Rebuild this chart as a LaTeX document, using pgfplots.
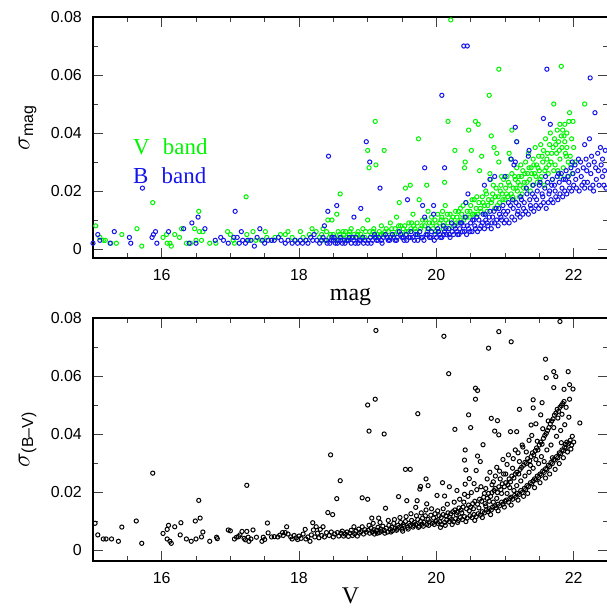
\documentclass[border=0pt]{standalone}
\usepackage{pgfplots}
\pgfplotsset{compat=1.18}
\usepackage{fontspec}
\setmainfont{Liberation Sans}
\newfontfamily\labfont{Liberation Serif}
\definecolor{vgreen}{RGB}{0,245,0}
\definecolor{bblue}{RGB}{20,20,235}
\pgfplotsset{
  panel/.style={
    scale only axis, width=515bp, xmin=15, xmax=22.5,
    xtick={16,18,20,22}, minor xtick={15.5,16.5,17,17.5,18.5,19,19.5,20.5,21,21.5,22.5},
    ytick={0,0.02,0.04,0.06,0.08}, yticklabels={0,0.02,0.04,0.06,0.08},
    minor ytick={0.01,0.03,0.05,0.07},
    scaled y ticks=false,
    tick align=inside, major tick length=10bp, minor tick length=5bp,
    every tick/.style={line width=0.8bp, black!75},
    axis line style={line width=1.2bp},
    /pgf/number format/assume math mode=true,
    tick label style={font=\fontsize{16}{16}\selectfont},
    yticklabel style={inner sep=0pt, xshift=-11bp},
    xticklabel style={inner sep=0pt, yshift=-11bp},
    xlabel style={font=\labfont\fontsize{24}{24}\selectfont, at={(axis description cs:0.5,-0.16)}, anchor=center},
    ylabel style={at={(axis description cs:-0.127,0.5)}, anchor=center},
  },
  pts/.style={only marks, mark=o, mark size=2.1bp, mark options={draw=#1, line width=1bp}},
}
\begin{document}
\begin{tikzpicture}
\begin{axis}[panel, at={(0,0)}, anchor=north west, height=241bp, ymin=-0.0031, ymax=0.08,
  xlabel={mag}, ylabel={\fontsize{25}{25}\selectfont$\sigma_{\mbox{\fontsize{16}{16}\selectfont mag}}$},
  ylabel style={at={(axis description cs:-0.127,0.54)}}]
\addplot[pts=vgreen] coordinates {
(15.04,0.008)(15.1,0.004)(15.15,0.003)(15.18,0.003)(15.26,0.002)(15.34,0.002)(15.42,0.005)(15.64,0.007)(15.71,0.001)(15.87,0.016)(16.02,0.004)(16.07,0.005)(16.08,0.002)(16.12,0.002)(16.14,0.001)(16.19,0.005)(16.26,0.004)(16.29,0.007)(16.36,0.002)(16.42,0.002)(16.48,0.007)(16.5,0.003)(16.54,0.013)(16.55,0.006)(16.58,0.003)(16.6,0.006)(16.7,0.002)(16.79,0.002)(16.96,0.006)(17.0,0.005)(17.04,0.003)(17.06,0.002)(17.23,0.018)(17.24,0.005)(17.27,0.003)(17.33,0.006)(17.37,0.003)(17.45,0.003)(17.51,0.006)(17.53,0.004)(17.6,0.003)(17.65,0.004)(17.73,0.005)(17.8,0.005)(17.84,0.006)(17.9,0.004)(17.95,0.003)(18.02,0.006)(18.06,0.004)(18.1,0.003)(18.15,0.005)(18.19,0.007)(18.25,0.006)
(18.3,0.004)(18.33,0.005)(18.35,0.007)(18.38,0.003)(18.42,0.010)(18.44,0.004)(18.48,0.010)(18.5,0.005)(18.52,0.004)(18.55,0.012)(18.57,0.006)(18.6,0.019)(18.62,0.004)(18.65,0.005)(18.68,0.006)(18.7,0.004)(18.73,0.005)(18.76,0.007)(18.8,0.005)(18.83,0.004)(18.86,0.006)(18.9,0.005)(18.93,0.007)(18.96,0.004)(19.0,0.010)(19.0,0.034)(19.02,0.028)(19.03,0.006)(19.06,0.005)(19.09,0.007)(19.11,0.044)(19.12,0.029)(19.14,0.005)(19.17,0.006)(19.2,0.008)(19.24,0.034)(19.23,0.005)(19.27,0.007)(19.3,0.006)(19.33,0.009)(19.36,0.005)(19.4,0.007)(19.42,0.011)(19.44,0.006)(19.46,0.016)(19.48,0.008)(19.52,0.007)(19.55,0.021)(19.56,0.006)(19.6,0.009)(19.62,0.022)(19.63,0.007)(19.66,0.012)(19.67,0.008)(19.7,0.006)(19.72,0.009)(19.74,0.038)(19.75,0.017)(19.77,0.007)(19.8,0.010)(19.83,0.008)(19.86,0.022)(19.87,0.006)(19.88,0.013)(19.9,0.009)(19.93,0.011)(19.95,0.007)(19.98,0.010)
(18.32,0.003)(18.4,0.006)(18.46,0.005)(18.54,0.003)(18.59,0.005)(18.64,0.006)(18.69,0.003)(18.74,0.006)(18.79,0.004)(18.85,0.005)(18.91,0.004)(18.97,0.006)(19.04,0.004)(19.08,0.006)(19.13,0.004)(19.19,0.005)(19.25,0.006)(19.29,0.004)(19.35,0.007)(19.39,0.005)(19.45,0.008)(19.5,0.005)(19.54,0.008)(19.59,0.006)(19.64,0.009)(19.69,0.007)(19.73,0.005)(19.79,0.008)(19.84,0.010)(19.89,0.007)(19.94,0.009)(19.99,0.006)
(20.0,0.008)(20.02,0.012)(20.05,0.009)(20.08,0.011)(20.09,0.013)(20.1,0.007)(20.12,0.023)(20.13,0.015)(20.14,0.010)(20.17,0.044)(20.17,0.009)(20.2,0.012)(20.21,0.079)(20.22,0.010)(20.25,0.008)(20.27,0.034)(20.28,0.013)(20.3,0.011)(20.33,0.009)(20.35,0.014)(20.37,0.012)(20.4,0.010)(20.41,0.028)(20.42,0.030)(20.43,0.016)(20.45,0.013)(20.47,0.041)(20.48,0.011)(20.5,0.015)(20.51,0.034)(20.53,0.012)(20.55,0.017)(20.57,0.044)(20.58,0.014)(20.6,0.012)(20.61,0.043)(20.62,0.016)(20.63,0.027)(20.65,0.013)(20.66,0.032)(20.67,0.018)(20.7,0.015)(20.72,0.020)(20.74,0.013)(20.77,0.053)(20.76,0.017)(20.78,0.026)(20.79,0.024)(20.8,0.039)(20.8,0.016)(20.82,0.019)(20.84,0.035)(20.85,0.014)(20.87,0.021)(20.88,0.033)(20.9,0.018)(20.91,0.062)(20.91,0.030)(20.92,0.016)(20.94,0.022)(20.96,0.019)(20.98,0.024)
(21.0,0.017)(21.01,0.021)(21.03,0.025)(21.04,0.018)(21.06,0.033)(21.07,0.022)(21.08,0.031)(21.09,0.019)(21.1,0.041)(21.1,0.026)(21.12,0.021)(21.13,0.017)(21.15,0.024)(21.17,0.037)(21.17,0.028)(21.18,0.020)(21.2,0.025)(21.22,0.022)(21.23,0.029)(21.25,0.019)(21.26,0.027)(21.28,0.023)(21.3,0.030)(21.31,0.021)(21.33,0.026)(21.34,0.033)(21.36,0.024)(21.38,0.028)(21.4,0.022)(21.41,0.031)(21.43,0.026)(21.44,0.035)(21.46,0.029)(21.47,0.023)(21.49,0.032)(21.5,0.027)(21.52,0.036)(21.53,0.025)(21.55,0.030)(21.56,0.034)(21.57,0.022)(21.59,0.038)(21.6,0.028)(21.62,0.033)(21.63,0.026)(21.65,0.036)(21.66,0.040)(21.67,0.030)(21.69,0.024)(21.7,0.035)(21.71,0.050)(21.72,0.038)(21.73,0.029)(21.75,0.033)(21.76,0.041)(21.77,0.027)(21.78,0.037)(21.8,0.043)(21.8,0.031)(21.82,0.063)(21.82,0.039)(21.83,0.035)(21.84,0.041)(21.85,0.028)(21.87,0.043)(21.87,0.037)(21.88,0.033)(21.89,0.032)(21.9,0.040)(21.91,0.025)(21.93,0.044)(21.94,0.047)(21.95,0.032)(21.96,0.029)(21.98,0.026)(21.99,0.044)(22.0,0.035)(22.02,0.030)(22.16,0.050)
(20.03,0.006)(20.07,0.010)(20.11,0.008)(20.16,0.012)(20.19,0.007)(20.24,0.011)(20.29,0.009)(20.32,0.013)(20.36,0.010)(20.39,0.015)(20.44,0.011)(20.49,0.013)(20.52,0.017)(20.56,0.012)(20.59,0.018)(20.64,0.014)(20.68,0.016)(20.71,0.012)(20.73,0.019)(20.75,0.015)(20.81,0.017)(20.83,0.022)(20.86,0.018)(20.89,0.015)(20.93,0.020)(20.95,0.025)(20.97,0.017)(21.02,0.019)(21.05,0.023)(21.11,0.018)(21.14,0.025)(21.16,0.021)(21.19,0.023)(21.21,0.018)(21.24,0.025)(21.27,0.021)(21.29,0.026)(21.32,0.023)(21.35,0.028)(21.37,0.020)(21.39,0.026)(21.42,0.029)(21.45,0.025)(21.48,0.028)(21.51,0.024)(21.54,0.032)(21.58,0.027)(21.61,0.031)(21.64,0.029)(21.68,0.033)(21.71,0.027)(21.74,0.036)(21.79,0.034)(21.81,0.025)(21.86,0.039)(21.9,0.035)(21.92,0.030)(21.97,0.038)
};
\addplot[pts=bblue] coordinates {
(15.0,0.002)(15.07,0.005)(15.1,0.003)(15.25,0.002)(15.31,0.006)(15.53,0.004)(15.55,0.002)(15.72,0.021)(15.86,0.004)(15.88,0.005)(15.91,0.006)(15.93,0.002)(16.1,0.006)(16.32,0.007)(16.4,0.002)(16.44,0.009)(16.5,0.002)(16.53,0.011)(16.63,0.007)(16.78,0.003)(16.86,0.004)(16.9,0.003)(16.97,0.002)(17.05,0.004)(17.07,0.013)(17.1,0.004)(17.13,0.002)(17.16,0.006)(17.18,0.003)(17.22,0.002)(17.25,0.003)(17.3,0.003)(17.35,0.001)(17.39,0.004)(17.43,0.007)(17.47,0.003)(17.5,0.002)(17.55,0.003)(17.6,0.003)(17.64,0.003)(17.7,0.004)(17.74,0.003)(17.8,0.002)(17.84,0.003)(17.9,0.002)(17.94,0.003)(17.98,0.002)(18.02,0.003)(18.05,0.002)(18.1,0.003)(18.13,0.002)(18.17,0.004)(18.2,0.003)(18.22,0.005)(18.26,0.003)
(18.3,0.002)(18.33,0.003)(18.37,0.008)(18.4,0.003)(18.42,0.013)(18.43,0.032)(18.45,0.002)(18.48,0.004)(18.5,0.003)(18.53,0.002)(18.55,0.015)(18.57,0.003)(18.6,0.004)(18.63,0.002)(18.66,0.003)(18.7,0.003)(18.73,0.004)(18.76,0.002)(18.8,0.011)(18.8,0.003)(18.83,0.004)(18.86,0.002)(18.9,0.014)(18.9,0.003)(18.93,0.004)(18.96,0.003)(18.98,0.037)(19.0,0.002)(19.03,0.030)(19.04,0.004)(19.07,0.003)(19.1,0.005)(19.13,0.003)(19.16,0.004)(19.18,0.021)(19.2,0.003)(19.23,0.004)(19.26,0.005)(19.3,0.003)(19.33,0.004)(19.36,0.005)(19.4,0.003)(19.43,0.004)(19.46,0.006)(19.5,0.004)(19.53,0.003)(19.56,0.005)(19.58,0.017)(19.6,0.004)(19.63,0.006)(19.66,0.004)(19.7,0.005)(19.73,0.003)(19.76,0.006)(19.8,0.015)(19.8,0.004)(19.83,0.028)(19.83,0.011)(19.85,0.005)(19.88,0.007)(19.9,0.004)(19.93,0.006)(19.96,0.015)(19.96,0.012)(19.98,0.005)
(18.35,0.004)(18.41,0.002)(18.47,0.003)(18.51,0.004)(18.56,0.002)(18.61,0.003)(18.67,0.002)(18.72,0.003)(18.78,0.004)(18.82,0.002)(18.88,0.003)(18.94,0.002)(19.01,0.003)(19.05,0.002)(19.11,0.004)(19.15,0.003)(19.21,0.002)(19.28,0.004)(19.32,0.003)(19.38,0.004)(19.42,0.003)(19.48,0.005)(19.52,0.004)(19.57,0.003)(19.62,0.004)(19.68,0.003)(19.72,0.005)(19.78,0.004)(19.82,0.003)(19.87,0.005)(19.92,0.004)(19.97,0.003)
(20.0,0.004)(20.02,0.007)(20.05,0.005)(20.08,0.053)(20.08,0.004)(20.1,0.008)(20.12,0.028)(20.12,0.006)(20.15,0.005)(20.18,0.007)(20.2,0.004)(20.22,0.009)(20.25,0.005)(20.28,0.007)(20.3,0.006)(20.33,0.005)(20.35,0.009)(20.38,0.006)(20.4,0.070)(20.4,0.008)(20.42,0.011)(20.43,0.016)(20.44,0.005)(20.45,0.070)(20.46,0.019)(20.47,0.007)(20.5,0.009)(20.52,0.006)(20.55,0.010)(20.57,0.007)(20.6,0.006)(20.62,0.010)(20.65,0.008)(20.68,0.012)(20.7,0.022)(20.7,0.007)(20.72,0.010)(20.75,0.008)(20.78,0.024)(20.78,0.013)(20.8,0.007)(20.82,0.011)(20.85,0.025)(20.85,0.009)(20.87,0.014)(20.9,0.008)(20.92,0.012)(20.95,0.010)(20.97,0.015)(20.99,0.009)
(21.0,0.025)(21.02,0.010)(21.04,0.013)(21.06,0.009)(21.08,0.015)(21.09,0.031)(21.1,0.011)(21.12,0.014)(21.13,0.029)(21.14,0.010)(21.15,0.042)(21.15,0.030)(21.16,0.016)(21.17,0.037)(21.18,0.012)(21.2,0.015)(21.22,0.011)(21.24,0.017)(21.26,0.012)(21.28,0.016)(21.3,0.013)(21.32,0.019)(21.34,0.032)(21.35,0.034)(21.34,0.012)(21.36,0.017)(21.38,0.014)(21.4,0.019)(21.42,0.013)(21.43,0.018)(21.45,0.015)(21.47,0.020)(21.49,0.014)(21.5,0.022)(21.52,0.015)(21.54,0.019)(21.56,0.045)(21.56,0.016)(21.58,0.021)(21.6,0.014)(21.61,0.062)(21.62,0.023)(21.63,0.016)(21.65,0.020)(21.66,0.043)(21.67,0.017)(21.69,0.024)(21.7,0.016)(21.72,0.022)(21.74,0.018)(21.76,0.025)(21.77,0.017)(21.79,0.023)(21.8,0.019)(21.82,0.026)(21.84,0.018)(21.85,0.024)(21.87,0.020)(21.89,0.027)(21.9,0.019)(21.92,0.025)(21.94,0.021)(21.96,0.028)(21.97,0.020)(21.99,0.026)(22.0,0.022)(22.02,0.029)(22.04,0.021)(22.06,0.027)(22.08,0.020)(22.1,0.030)(22.12,0.022)(22.14,0.028)(22.16,0.036)(22.16,0.021)(22.18,0.031)(22.2,0.023)(22.22,0.029)(22.23,0.038)(22.24,0.059)(22.24,0.021)(22.26,0.032)(22.28,0.022)(22.29,0.020)(22.3,0.030)(22.31,0.047)(22.33,0.024)(22.35,0.033)(22.37,0.022)(22.39,0.035)(22.4,0.029)(22.42,0.031)(22.42,0.025)(22.44,0.022)(22.46,0.034)(22.47,0.021)
(20.03,0.006)(20.06,0.004)(20.11,0.005)(20.14,0.007)(20.19,0.005)(20.23,0.006)(20.27,0.008)(20.31,0.005)(20.34,0.007)(20.37,0.009)(20.41,0.006)(20.45,0.008)(20.49,0.006)(20.53,0.010)(20.56,0.008)(20.59,0.011)(20.63,0.007)(20.67,0.009)(20.71,0.012)(20.74,0.009)(20.77,0.011)(20.81,0.009)(20.84,0.013)(20.88,0.010)(20.91,0.014)(20.94,0.011)(20.98,0.013)(21.01,0.012)(21.05,0.016)(21.11,0.017)(21.19,0.013)(21.23,0.018)(21.27,0.014)(21.31,0.021)(21.37,0.015)(21.41,0.022)(21.46,0.017)(21.51,0.023)(21.55,0.018)(21.59,0.025)(21.64,0.019)(21.68,0.022)(21.73,0.020)(21.78,0.026)(21.83,0.021)(21.88,0.024)(21.93,0.023)(21.98,0.030)(22.03,0.024)(22.07,0.031)(22.11,0.025)(22.15,0.023)(22.19,0.027)(22.25,0.026)(22.32,0.028)(22.36,0.027)(22.45,0.027)
};
\node[anchor=west, text=vgreen, inner sep=0pt, font=\labfont\fontsize{23}{23}\selectfont] at (axis cs:15.58,0.0352) {V\,\, band};
\node[anchor=west, text=bblue, inner sep=0pt, font=\labfont\fontsize{23}{23}\selectfont] at (axis cs:15.58,0.0252) {B\,\, band};
\end{axis}
\begin{axis}[panel, at={(0,-301bp)}, anchor=north west, height=243bp, ymin=-0.0038, ymax=0.08,
  xlabel={V}, xlabel style={at={(axis description cs:0.5,-0.145)}},
  ylabel={\fontsize{25}{25}\selectfont$\sigma_{\mbox{\fontsize{16}{16}\selectfont (B--V)}}$}]
\addplot[pts=black] coordinates {
(15.03,0.0092)(15.07,0.0052)(15.15,0.0038)(15.19,0.0038)(15.27,0.0038)(15.37,0.003)(15.42,0.0079)(15.63,0.010)(15.71,0.0023)(15.87,0.0265)(16.02,0.0057)(16.08,0.0071)(16.1,0.0085)(16.08,0.0038)(16.12,0.003)(16.14,0.0023)(16.19,0.008)(16.27,0.0052)(16.28,0.0094)(16.36,0.0038)(16.43,0.003)(16.49,0.010)(16.5,0.0038)(16.54,0.0171)(16.56,0.011)(16.58,0.0045)(16.6,0.0062)(16.7,0.003)(16.8,0.0044)(16.81,0.0039)(16.97,0.0069)(17.0,0.0066)(17.06,0.0038)(17.09,0.0044)(17.12,0.0046)(17.14,0.0052)(17.17,0.0064)(17.2,0.004)(17.22,0.0035)(17.24,0.0223)(17.24,0.0064)(17.26,0.0044)(17.27,0.003)(17.3,0.0038)(17.33,0.0069)(17.38,0.0044)(17.46,0.003)(17.48,0.0044)(17.5,0.0036)(17.54,0.0093)(17.55,0.0059)(17.6,0.0045)(17.64,0.0046)(17.69,0.0045)(17.72,0.0051)(17.76,0.006)(17.77,0.005)(17.8,0.006)(17.82,0.008)(17.84,0.0055)(17.88,0.0045)(17.9,0.0038)(17.93,0.005)(17.96,0.0042)(17.98,0.0036)(18.0,0.0048)(18.03,0.004)(18.06,0.0055)(18.09,0.0071)(18.1,0.0038)(18.13,0.0045)(18.16,0.003)(18.18,0.0052)(18.2,0.0094)(18.21,0.0069)(18.23,0.0045)(18.25,0.008)(18.27,0.0058)(18.29,0.0042)(18.31,0.0071)(18.33,0.005)(18.35,0.008)(18.37,0.0045)(18.4,0.006)(18.42,0.0129)(18.44,0.005)(18.46,0.0328)(18.47,0.0062)(18.49,0.0122)(18.5,0.0045)(18.52,0.0055)(18.55,0.0177)(18.56,0.006)(18.58,0.0048)(18.6,0.0239)(18.61,0.0058)(18.63,0.0065)(18.65,0.0048)(18.67,0.0055)(18.7,0.0062)(18.72,0.0047)(18.74,0.0058)(18.76,0.0068)(18.78,0.005)(18.8,0.008)(18.81,0.0056)(18.83,0.0065)(18.85,0.0048)(18.87,0.0072)(18.88,0.0058)(18.9,0.0063)(18.92,0.008)(18.92,0.018)(18.94,0.0055)(18.96,0.007)(18.98,0.0062)
(19.0,0.0175)(19.0,0.050)(19.01,0.0068)(19.02,0.041)(19.03,0.0058)(19.05,0.0075)(19.06,0.011)(19.07,0.0062)(19.09,0.007)(19.1,0.0055)(19.11,0.052)(19.12,0.0757)(19.13,0.0068)(19.15,0.0078)(19.16,0.011)(19.17,0.006)(19.19,0.0072)(19.2,0.0065)(19.22,0.0082)(19.24,0.040)(19.24,0.0068)(19.26,0.0144)(19.27,0.0075)(19.29,0.0062)(19.31,0.0085)(19.33,0.0071)(19.35,0.0078)(19.36,0.0066)(19.38,0.0092)(19.4,0.0075)(19.42,0.0068)(19.44,0.0085)(19.45,0.0184)(19.46,0.0078)(19.48,0.0095)(19.5,0.0072)(19.52,0.0088)(19.53,0.0082)(19.55,0.0278)(19.55,0.0098)(19.57,0.017)(19.58,0.0078)(19.6,0.0092)(19.62,0.0278)(19.62,0.0085)(19.64,0.0102)(19.66,0.0079)(19.68,0.0095)(19.7,0.0147)(19.7,0.0088)(19.72,0.017)(19.73,0.047)(19.73,0.0105)(19.75,0.0082)(19.76,0.021)(19.77,0.0219)(19.77,0.0098)(19.79,0.0089)(19.8,0.011)(19.82,0.0095)(19.84,0.0118)(19.85,0.0245)(19.86,0.0159)(19.86,0.0088)(19.88,0.0222)(19.88,0.0105)(19.9,0.0097)(19.92,0.012)(19.94,0.0092)(19.96,0.011)(19.98,0.0125)(19.99,0.0098)
(19.02,0.0085)(19.08,0.0092)(19.14,0.0058)(19.18,0.0095)(19.25,0.0058)(19.3,0.0102)(19.34,0.0062)(19.39,0.0105)(19.43,0.0072)(19.47,0.0112)(19.51,0.0065)(19.56,0.0115)(19.59,0.0072)(19.63,0.0125)(19.67,0.0085)(19.71,0.0118)(19.74,0.0078)(19.78,0.0128)(19.81,0.0082)(19.85,0.0138)(19.89,0.0085)(19.93,0.0142)(19.97,0.0088)
(20.0,0.0102)(20.01,0.0188)(20.02,0.0092)(20.04,0.0118)(20.05,0.0097)(20.07,0.0112)(20.08,0.0088)(20.09,0.0232)(20.1,0.0122)(20.11,0.0737)(20.12,0.0095)(20.12,0.0186)(20.14,0.0118)(20.15,0.0103)(20.17,0.0128)(20.18,0.0608)(20.19,0.0218)(20.19,0.0098)(20.21,0.0125)(20.22,0.0105)(20.24,0.0132)(20.25,0.0098)(20.27,0.0416)(20.27,0.0138)(20.28,0.0108)(20.3,0.0205)(20.3,0.013)(20.32,0.0102)(20.33,0.0145)(20.35,0.0112)(20.36,0.0138)(20.38,0.0105)(20.39,0.0148)(20.41,0.031)(20.41,0.0192)(20.41,0.0115)(20.42,0.0345)(20.43,0.0276)(20.42,0.0227)(20.44,0.0142)(20.45,0.011)(20.47,0.0466)(20.47,0.0155)(20.48,0.0246)(20.49,0.0118)(20.5,0.0422)(20.5,0.0148)(20.52,0.0112)(20.53,0.016)(20.55,0.0229)(20.55,0.0122)(20.56,0.0168)(20.57,0.0558)(20.57,0.052)(20.58,0.0274)(20.58,0.0115)(20.6,0.055)(20.6,0.0324)(20.6,0.0158)(20.61,0.0125)(20.63,0.0175)(20.64,0.0305)(20.64,0.012)(20.66,0.0168)(20.67,0.0132)(20.68,0.0363)(20.69,0.0182)(20.7,0.0128)(20.71,0.016)(20.72,0.0212)(20.73,0.0138)(20.74,0.0178)(20.75,0.0132)(20.76,0.0696)(20.76,0.0195)(20.77,0.0142)(20.78,0.0268)(20.79,0.0185)(20.8,0.0454)(20.8,0.0138)(20.81,0.0198)(20.82,0.0148)(20.83,0.0235)(20.84,0.0205)(20.85,0.041)(20.85,0.0152)(20.86,0.0212)(20.87,0.0145)(20.88,0.0285)(20.89,0.0446)(20.89,0.0198)(20.9,0.0158)(20.91,0.0753)(20.91,0.0397)(20.91,0.0218)(20.92,0.0152)(20.93,0.0245)(20.94,0.0208)(20.95,0.0165)(20.96,0.0228)(20.97,0.0158)(20.98,0.0262)(20.99,0.0218)
(21.0,0.0168)(21.01,0.0232)(21.02,0.0172)(21.03,0.0295)(21.04,0.0225)(21.05,0.0165)(21.06,0.0245)(21.07,0.0178)(21.08,0.0408)(21.08,0.0235)(21.09,0.0718)(21.09,0.0182)(21.1,0.0255)(21.11,0.0175)(21.12,0.0315)(21.13,0.0248)(21.14,0.0188)(21.15,0.0262)(21.16,0.0182)(21.17,0.0408)(21.17,0.0268)(21.18,0.0195)(21.19,0.0335)(21.2,0.0262)(21.21,0.0485)(21.21,0.0192)(21.22,0.0278)(21.23,0.0205)(21.24,0.0285)(21.25,0.0198)(21.26,0.0355)(21.27,0.0292)(21.28,0.0212)(21.29,0.0302)(21.3,0.0208)(21.31,0.0298)(21.32,0.0222)(21.33,0.0315)(21.34,0.0218)(21.35,0.0378)(21.36,0.0308)(21.37,0.0232)(21.38,0.0431)(21.38,0.0322)(21.39,0.0228)(21.4,0.0335)(21.41,0.0518)(21.41,0.049)(21.41,0.0238)(21.42,0.0328)(21.43,0.0245)(21.44,0.0342)(21.45,0.0435)(21.45,0.0242)(21.46,0.0352)(21.47,0.0255)(21.48,0.0345)(21.49,0.025)(21.5,0.0362)(21.51,0.0262)(21.52,0.0466)(21.52,0.0372)(21.53,0.0258)(21.54,0.0508)(21.54,0.0365)(21.55,0.0272)(21.56,0.0385)(21.57,0.0268)(21.58,0.0395)(21.59,0.0658)(21.59,0.028)(21.6,0.0594)(21.6,0.0402)(21.61,0.0278)(21.62,0.0412)(21.63,0.0292)(21.64,0.0422)(21.65,0.0288)(21.66,0.0435)(21.67,0.0302)(21.68,0.0445)(21.69,0.0298)(21.7,0.0452)(21.71,0.0615)(21.71,0.056)(21.71,0.0312)(21.72,0.0465)(21.73,0.031)(21.74,0.0598)(21.74,0.0472)(21.75,0.0322)(21.76,0.0485)(21.77,0.0318)(21.78,0.0478)(21.79,0.0335)(21.8,0.0788)(21.8,0.0492)(21.81,0.0332)(21.82,0.0498)(21.82,0.037)(21.83,0.0345)(21.84,0.0505)(21.85,0.0342)(21.86,0.0554)(21.86,0.0512)(21.87,0.0355)(21.88,0.0365)(21.89,0.0352)(21.9,0.0372)(21.92,0.0615)(21.93,0.0368)(21.94,0.057)(21.94,0.052)(21.95,0.0378)(21.97,0.0362)(21.99,0.0555)(22.0,0.0372)(22.09,0.0438)
(20.02,0.0135)(20.06,0.0078)(20.1,0.0142)(20.13,0.0085)(20.16,0.0158)(20.2,0.0112)(20.23,0.0088)(20.26,0.0165)(20.29,0.0122)(20.31,0.0095)(20.34,0.0175)(20.37,0.0128)(20.4,0.0165)(20.43,0.0098)(20.46,0.0185)(20.48,0.0135)(20.51,0.0198)(20.54,0.0142)(20.56,0.0102)(20.59,0.0208)(20.62,0.0145)(20.65,0.0218)(20.67,0.0112)(20.7,0.0195)(20.72,0.0152)(20.74,0.0245)(20.77,0.0168)(20.79,0.0122)(20.81,0.0225)(20.83,0.0165)(20.86,0.0255)(20.88,0.0178)(20.9,0.0135)(20.92,0.0272)(20.95,0.0195)(20.97,0.0312)(20.99,0.0148)(21.01,0.0262)(21.03,0.0195)(21.05,0.0328)(21.07,0.0215)(21.09,0.0155)(21.11,0.0282)(21.13,0.0205)(21.15,0.0345)(21.17,0.0222)(21.19,0.0172)(21.21,0.0305)(21.23,0.0238)(21.25,0.0362)(21.27,0.0185)(21.29,0.0255)(21.31,0.0338)(21.33,0.0195)(21.35,0.0268)(21.37,0.0292)(21.39,0.0395)(21.41,0.0282)(21.43,0.0215)(21.45,0.0312)(21.47,0.0375)(21.49,0.0298)(21.51,0.0232)(21.53,0.0322)(21.55,0.0418)(21.57,0.0305)(21.59,0.0248)(21.61,0.0345)(21.63,0.0445)(21.65,0.0262)(21.67,0.0362)(21.69,0.0318)(21.71,0.0422)(21.73,0.0278)(21.75,0.0392)(21.77,0.0455)(21.79,0.0298)(21.81,0.0412)(21.83,0.0468)(21.85,0.0318)(21.87,0.0432)(21.89,0.0492)(21.91,0.0338)(21.93,0.0458)(21.96,0.0348)(21.98,0.0392)
};
\end{axis}
\pgfresetboundingbox
\path[use as bounding box] (-93bp,17bp) rectangle (514bp,-592bp);
\end{tikzpicture}
\end{document}
